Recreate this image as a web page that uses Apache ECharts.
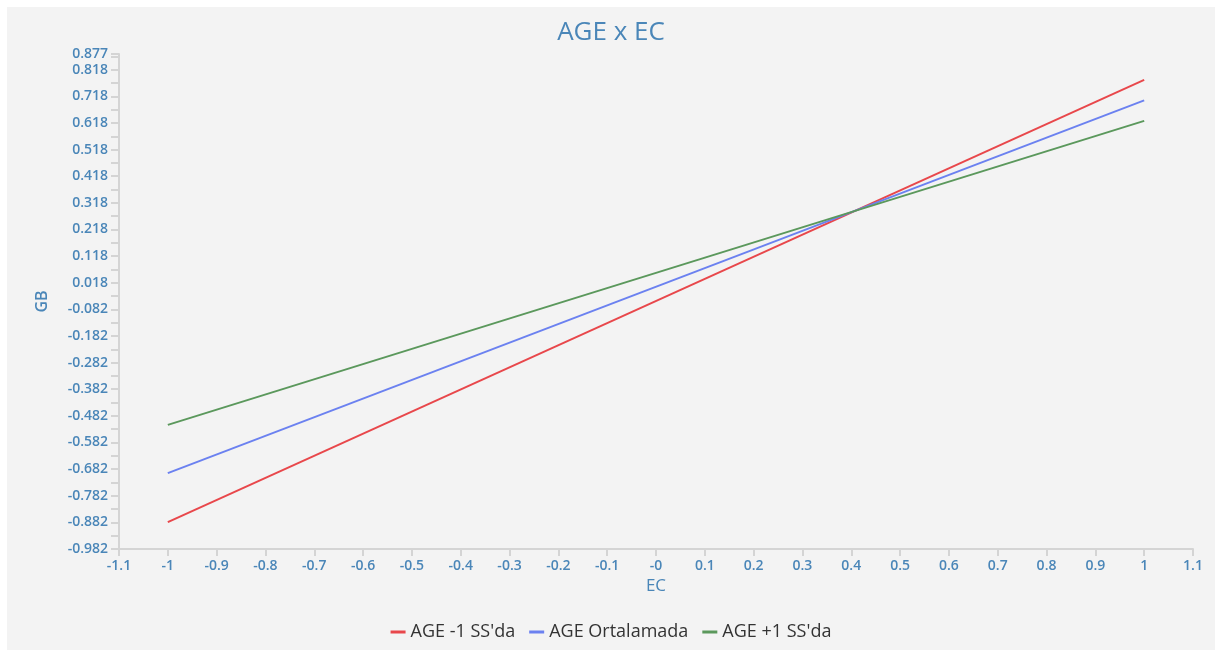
<!DOCTYPE html>
<html>
<head>
<meta charset="utf-8">
<script src="https://cdn.jsdelivr.net/npm/echarts@6/dist/echarts.min.js"></script>
<style>
  html, body { margin: 0; padding: 0; background: #ffffff; }
  #chart { position: absolute; left: 7px; top: 7px; width: 1208px; height: 643px; background: #f3f3f3; }
</style>
</head>
<body>
<div id="chart"></div>
<script>
// Simple slopes of GB on EC at three levels of AGE
const ecRange = [-1, 1];
const seriesNames = ["AGE -1 SS'da", 'AGE Ortalamada', "AGE +1 SS'da"];
const lowAge = [-0.881, 0.780];
const meanAge = [-0.697, 0.703];
const highAge = [-0.516, 0.626];
const seriesColors = ['#e8474b', '#6b81f0', '#5b985c'];

const yMin = -0.982, yMax = 0.877, yStep = 0.1;
const xMin = -1.1, xMax = 1.1, xStep = 0.1;

const labelColor = '#4a86b8';
const axisColor = '#d4d4d4';
const font = 'Open Sans';

const chart = echarts.init(document.getElementById('chart'), null, { renderer: 'canvas' });

function pairs(vals) {
  return ecRange.map((x, i) => [x, vals[i]]);
}

const allVals = [lowAge, meanAge, highAge];

chart.setOption({
  backgroundColor: '#f3f3f3',
  animation: false,
  title: {
    text: 'AGE x EC',
    left: 'center',
    top: 8,
    textStyle: { color: '#4a86b8', fontSize: 26, fontWeight: 'normal', fontFamily: font }
  },
  grid: { left: 112, right: 22, top: 47, bottom: 101 },
  legend: {
    bottom: 4,
    left: 'center',
    itemWidth: 15,
    itemHeight: 3,
    itemGap: 14,
    icon: 'rect',
    textStyle: { color: '#333333', fontSize: 18, fontFamily: font },
    data: seriesNames
  },
  xAxis: {
    type: 'value',
    min: xMin, max: xMax, interval: xStep,
    name: 'EC',
    nameLocation: 'middle',
    nameGap: 29,
    nameTextStyle: { color: labelColor, fontSize: 17, fontFamily: font },
    splitLine: { show: false },
    axisLine: { show: true, onZero: false, lineStyle: { color: axisColor, width: 2 } },
    axisTick: { show: true, length: 7, lineStyle: { color: axisColor, width: 2 } },
    axisLabel: {
      color: labelColor, fontSize: 14, fontWeight: 600, fontFamily: font, margin: 10,
      formatter: v => {
        if (Math.abs(v) < 1e-9) return '-0';
        return String(parseFloat(v.toFixed(1)));
      }
    }
  },
  yAxis: {
    type: 'value',
    min: yMin, max: yMax, interval: yStep,
    name: 'GB',
    nameLocation: 'middle',
    nameGap: 69,
    nameTextStyle: { color: labelColor, fontSize: 16, fontWeight: 600, fontFamily: font },
    splitLine: { show: false },
    axisLine: { show: true, onZero: false, lineStyle: { color: axisColor, width: 2 } },
    axisTick: { show: true, length: 8, lineStyle: { color: axisColor, width: 2 } },
    minorTick: { show: true, splitNumber: 2, length: 8, lineStyle: { color: axisColor, width: 2 } },
    axisLabel: {
      color: labelColor, fontSize: 14, fontWeight: 600, fontFamily: font, margin: 11,
      showMaxLabel: true,
      formatter: v => v.toFixed(3)
    }
  },
  series: seriesNames.map((name, i) => ({
    name: name,
    type: 'line',
    data: pairs(allVals[i]),
    symbol: 'none',
    color: seriesColors[i],
    lineStyle: { width: 2, color: seriesColors[i] }
  }))
});
</script>
</body>
</html>
